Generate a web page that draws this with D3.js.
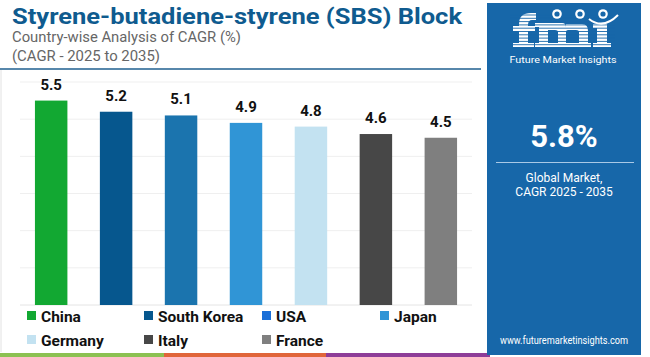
<!DOCTYPE html>
<html><head><meta charset="utf-8">
<script src="https://cdn.jsdelivr.net/npm/d3@7"></script>
<style>html,body{margin:0;padding:0;background:#fff;overflow:hidden}</style>
</head><body><div id="chart"></div>
<script>
const categories = ["China","South Korea","USA","Japan","Germany","Italy","France"];
const values = [5.5, 5.2, 5.1, 4.9, 4.8, 4.6, 4.5];
const barColors = ["#12a832","#06578e","#1b74ae","#3095d6","#c3e2f1","#474747","#7f7f7f"];
const legendColors = ["#12a832","#06578e","#1a6fd8","#3095d6","#c3e2f1","#474747","#7f7f7f"];
const yTicks = [0,1,2,3,4,5,6];
const title = "Styrene-butadiene-styrene (SBS) Block";
const subtitle1 = "Country-wise Analysis of CAGR (%)";
const subtitle2 = "(CAGR - 2025 to 2035)";
const globalValue = "5.8%";
const globalLabel1 = "Global Market,";
const globalLabel2 = "CAGR 2025 - 2035";
const url = "www.futuremarketinsights.com";

const W = 650, H = 357;
const svg = d3.select("#chart").append("svg").attr("width", W).attr("height", H);
const FONT = "Roboto, 'Open Sans', sans-serif";

// left border
svg.append("line").attr("x1",1).attr("x2",1).attr("y1",70).attr("y2",352).attr("stroke","#e2e2e2");

// title
svg.append("text").attr("x",12).attr("y",24).text(title)
  .attr("font-family",FONT).attr("font-weight",700).attr("font-size",22)
  .attr("fill","#0f5b8f").attr("textLength",450).attr("lengthAdjust","spacingAndGlyphs");
svg.append("text").attr("x",12).attr("y",42).text(subtitle1)
  .attr("font-family",FONT).attr("font-size",14.5).attr("fill","#666")
  .attr("textLength",229).attr("lengthAdjust","spacingAndGlyphs");
svg.append("text").attr("x",12).attr("y",61).text(subtitle2)
  .attr("font-family",FONT).attr("font-size",14.5).attr("fill","#666")
  .attr("textLength",148).attr("lengthAdjust","spacingAndGlyphs");
svg.append("line").attr("x1",0).attr("x2",481).attr("y1",69).attr("y2",69)
  .attr("stroke","#1f5f8f").attr("stroke-width",1.5);

// scales
const x = d3.scaleBand().domain(categories).range([20,472]).paddingInner(0.5).paddingOuter(0.23);
const y = d3.scaleLinear().domain([0,6]).range([305,82]);

const grid = svg.append("g");
grid.selectAll("line").data(yTicks).join("line")
  .attr("x1",20).attr("x2",472).attr("y1",d=>y(d)).attr("y2",d=>y(d))
  .attr("stroke",d=>d===0?"#e4e4e4":"#efefef").attr("stroke-width",1);

svg.append("g").selectAll("rect").data(values).join("rect")
  .attr("x",(d,i)=>x(categories[i])).attr("width",x.bandwidth())
  .attr("y",d=>y(d)).attr("height",d=>y(0)-y(d))
  .attr("fill",(d,i)=>barColors[i]);

svg.append("g").selectAll("text").data(values).join("text")
  .attr("x",(d,i)=>x(categories[i])+x.bandwidth()/2).attr("y",d=>y(d)-11)
  .attr("text-anchor","middle").attr("font-family",FONT).attr("font-weight",700)
  .attr("font-size",15).attr("fill","#111").text(d=>d.toFixed(1));

// legend
const legX = [27,144,262,380];
const legY = [317,341];
const leg = svg.append("g");
categories.forEach((c,i)=>{
  const col = i%4, row = Math.floor(i/4);
  const g = leg.append("g").attr("transform",`translate(${legX[col]},${legY[row]})`);
  g.append("rect").attr("x",0).attr("y",-6).attr("width",9).attr("height",9).attr("fill",legendColors[i]);
  g.append("text").attr("x",14).attr("y",5).text(c)
    .attr("font-family",FONT).attr("font-weight",700).attr("font-size",15.5).attr("fill","#111");
});

// bottom colour strip
const strips = [[0,164,"#8cc152"],[164,326,"#e0663a"],[326,490,"#8e3d98"]];
svg.append("g").selectAll("rect").data(strips).join("rect")
  .attr("x",d=>d[0]).attr("width",d=>d[1]-d[0]).attr("y",353).attr("height",4).attr("fill",d=>d[2]);

// right panel
const PC = "#1767a9";
svg.append("rect").attr("x",487).attr("y",3).attr("width",154).attr("height",352).attr("fill",PC);

// logo (drawn with shapes)
const logo = svg.append("g").attr("fill","#fff");
// f
logo.append("path").attr("d","M519 47 L519 24 Q519 13 531 13 L536 13 L536 20 L532 20 Q528 20 528 25 L528 47 Z");
logo.append("rect").attr("x",513).attr("y",26).attr("width",22).attr("height",5);
logo.append("rect").attr("x",513).attr("y",43).attr("width",21).attr("height",4);
// m
logo.append("path").attr("d","M539 47 L539 23 L562 23 Q566 23 566 27 L566 24 L582 24 Q588 24 588 31 L588 47 L579 47 L579 32 Q579 30 576 30 L568 30 Q566 30 566 32 L566 47 L558 47 L558 32 Q558 30 555 30 L548 30 L548 47 Z");
logo.append("rect").attr("x",535).attr("y",23).attr("width",8).attr("height",4);
logo.append("rect").attr("x",535).attr("y",43).attr("width",56).attr("height",4);
// i
logo.append("rect").attr("x",597).attr("y",24).attr("width",10).attr("height",23);
logo.append("rect").attr("x",593).attr("y",24).attr("width",10).attr("height",4);
logo.append("rect").attr("x",593).attr("y",43).attr("width",18).attr("height",4);
for (let yy = 15; yy < 48; yy += 3.3) {
  svg.append("line").attr("x1",510).attr("x2",615).attr("y1",yy).attr("y2",yy)
    .attr("stroke",PC).attr("stroke-width",0.9);
}
[[557,14],[580,14],[603,14]].forEach(p=>{
  svg.append("circle").attr("cx",p[0]).attr("cy",p[1]).attr("r",4.8).attr("fill","#fff");
  svg.append("circle").attr("cx",p[0]).attr("cy",p[1]).attr("r",2.6).attr("fill",PC);
});
svg.append("path").attr("d","M589 19 Q603 30 618 15").attr("fill","none").attr("stroke","#fff").attr("stroke-width",2);
svg.append("text").attr("x",563).attr("y",63).attr("text-anchor","middle").text("Future Market Insights")
  .attr("font-family",FONT).attr("font-size",9.5).attr("fill","#fff")
  .attr("textLength",107).attr("lengthAdjust","spacingAndGlyphs");

svg.append("text").attr("x",564).attr("y",147).attr("text-anchor","middle").text(globalValue)
  .attr("font-family",FONT).attr("font-weight",700).attr("font-size",31).attr("fill","#fff");
svg.append("line").attr("x1",496).attr("x2",634).attr("y1",162.5).attr("y2",162.5)
  .attr("stroke","#a9c9e6").attr("stroke-width",1.2);
svg.append("text").attr("x",564).attr("y",182).attr("text-anchor","middle").text(globalLabel1)
  .attr("font-family",FONT).attr("font-size",12).attr("fill","#fff");
svg.append("text").attr("x",564).attr("y",196).attr("text-anchor","middle").text(globalLabel2)
  .attr("font-family",FONT).attr("font-size",12).attr("fill","#fff");
svg.append("text").attr("x",564).attr("y",344).attr("text-anchor","middle").text(url)
  .attr("font-family",FONT).attr("font-size",10.5).attr("fill","#fff")
  .attr("textLength",128).attr("lengthAdjust","spacingAndGlyphs");
</script></body></html>
